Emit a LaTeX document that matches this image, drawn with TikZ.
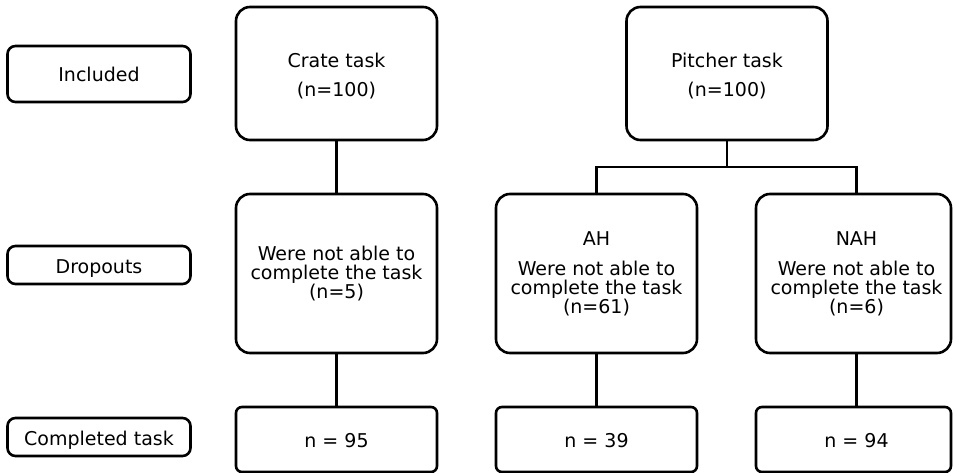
\documentclass[tikz,border=0pt]{standalone}
\usepackage{fontspec}
\setmainfont{DejaVu Sans}
\begin{document}
\begin{tikzpicture}[x=1pt,y=-1pt,
  every node/.style={inner sep=0pt},
  txt/.style={font=\fontsize{19}{19}\selectfont, align=center, anchor=base},
  bigbox/.style={draw, line width=2.6pt, rounded corners=14pt, minimum width=201pt},
  labelbox/.style={draw, line width=2.6pt, rounded corners=8pt, minimum width=183pt},
  resbox/.style={draw, line width=2.6pt, rounded corners=6pt, minimum width=201pt, minimum height=65pt},
  conn/.style={line width=2.6pt}]
\useasboundingbox (0,0) rectangle (953,473);
% left labels
\node[labelbox, minimum height=56pt] (incl) at (99,74) {};
\node[txt] (incl-t) at (99,82) {Included};
\node[labelbox, minimum height=38pt] (drop) at (99,265) {};
\node[txt] (drop-t) at (99,273) {Dropouts};
\node[labelbox, minimum height=38pt] (comp) at (99,437) {};
\node[txt] (comp-t) at (99,445) {Completed task};
% top boxes (text positioned by the baseline of its last line)
\node[bigbox, minimum height=133pt] (crate) at (336.5,73.5) {};
\node[txt] (crate-t) at (336.5,97) {Crate task\\[10pt](n=100)};
\node[bigbox, minimum height=133pt] (pitch) at (727,73.5) {};
\node[txt] (pitch-t) at (727,97) {Pitcher task\\[10pt](n=100)};
% dropout boxes
\node[bigbox, minimum height=159pt] (cdrop) at (336.5,273.5) {};
\node[txt] (cdrop-t) at (336.5,298) {Were not able to\\complete the task\\(n=5)};
\node[bigbox, minimum height=159pt] (ahdrop) at (596.5,273.5) {};
\node[txt] (ahdrop-t) at (596.5,313) {AH\\[11pt]Were not able to\\complete the task\\(n=61)};
\node[bigbox, minimum width=195pt, minimum height=159pt] (nahdrop) at (853.5,273.5) {};
\node[txt] (nahdrop-t) at (856.5,313) {NAH\\[11pt]Were not able to\\complete the task\\(n=6)};
% result boxes
\node[resbox] (cres) at (336.5,439.5) {};
\node[txt] (cres-t) at (336.5,447) {n = 95};
\node[resbox] (ahres) at (596.5,439.5) {};
\node[txt] (ahres-t) at (596.5,447) {n = 39};
\node[resbox, minimum width=195pt] (nahres) at (853.5,439.5) {};
\node[txt] (nahres-t) at (856.5,447) {n = 94};
% connectors
\coordinate (split) at (727,167);
\coordinate (nahtop) at (856.5,194);
\coordinate (nahbot) at (856.5,353);
\coordinate (nahrestop) at (856.5,407);
\draw[conn] (crate.south) -- (cdrop.north);
\draw[conn] (cdrop.south) -- (cres.north);
\draw[conn] (pitch.south) -- (split);
\draw[conn] (ahdrop.north) |- (split) -| (nahtop);
\draw[conn] (ahdrop.south) -- (ahres.north);
\draw[conn] (nahbot) -- (nahrestop);
\end{tikzpicture}
\end{document}
